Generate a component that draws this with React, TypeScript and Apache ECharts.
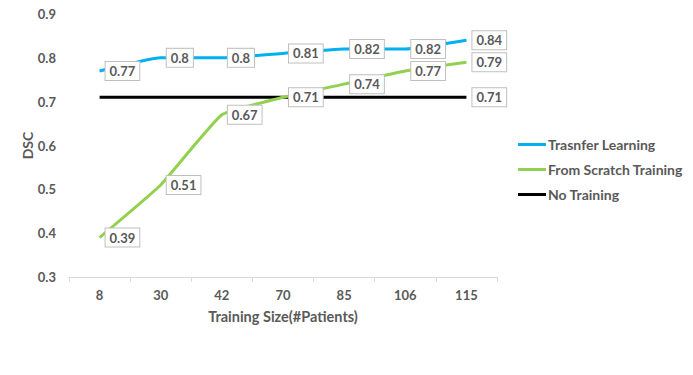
import React, { useEffect, useRef } from "react";
import * as echarts from "echarts";

const categories = ["8", "30", "42", "70", "85", "106", "115"];
const transferLearning = [0.77, 0.8, 0.8, 0.81, 0.82, 0.82, 0.84];
const fromScratch = [0.39, 0.51, 0.67, 0.71, 0.74, 0.77, 0.79];
const noTraining = [0.71, 0.71, 0.71, 0.71, 0.71, 0.71, 0.71];
const seriesNames = ["Trasnfer Learning", "From Scratch Training", "No Training"];
const colors = ["#00b0f0", "#92d050", "#000000"];

const FONT = "Lato, 'Open Sans', sans-serif";
const TEXT = "#595959";

const labelStyle = {
  show: true,
  position: "right" as const,
  distance: 6,
  color: TEXT,
  fontFamily: FONT,
  fontWeight: "bold" as const,
  fontSize: 13,
  backgroundColor: "#ffffff",
  borderColor: "#bfbfbf",
  borderWidth: 1,
  padding: [3, 4, 2, 4],
  formatter: (p: any) => String(p.value),
};

export default function App() {
  const ref = useRef<HTMLDivElement>(null);
  useEffect(() => {
    if (!ref.current) return;
    const chart = echarts.init(ref.current, null, { renderer: "svg" });
    chart.setOption({
      animation: false,
      backgroundColor: "#ffffff",
      grid: { left: 69, right: 196, top: 14, bottom: 98, containLabel: false },
      legend: {
        orient: "vertical",
        left: 513,
        top: 132,
        itemWidth: 28,
        itemHeight: 3,
        itemGap: 10,
        icon: "rect",
        textStyle: {
          color: TEXT,
          fontFamily: FONT,
          fontWeight: "bold",
          fontSize: 14,
          lineHeight: 15,
          padding: [0, 0, 0, -3],
        },
        data: seriesNames,
      },
      xAxis: {
        type: "category",
        data: categories,
        boundaryGap: true,
        name: "Training Size(#Patients)",
        nameLocation: "middle",
        nameGap: 32,
        nameTextStyle: { color: TEXT, fontFamily: FONT, fontWeight: "bold", fontSize: 14.5 },
        axisLine: { lineStyle: { color: "#d9d9d9", width: 1 } },
        axisTick: { show: true, length: 5, lineStyle: { color: "#d9d9d9" } },
        axisLabel: { color: TEXT, fontFamily: FONT, fontWeight: "bold", fontSize: 13, margin: 11 },
        splitLine: { show: false },
      },
      yAxis: {
        type: "value",
        min: 0.3,
        max: 0.9,
        interval: 0.1,
        name: "DSC",
        nameLocation: "middle",
        nameGap: 35,
        nameMoveOverlap: false,
        nameRotate: 90,
        nameTextStyle: { color: TEXT, fontFamily: FONT, fontWeight: "bold", fontSize: 14 },
        axisLine: { show: false },
        axisTick: { show: false },
        splitLine: { show: false },
        axisLabel: {
          color: TEXT,
          fontFamily: FONT,
          fontWeight: "bold",
          fontSize: 13,
          margin: 13,
          formatter: (v: number) => String(Math.round(v * 10) / 10),
        },
      },
      series: [
        {
          name: seriesNames[0],
          type: "line",
          data: transferLearning,
          smooth: 0.12,
          symbol: "circle",
          symbolSize: 0,
          lineStyle: { color: colors[0], width: 3 },
          itemStyle: { color: colors[0] },
          label: labelStyle,
          z: 3,
        },
        {
          name: seriesNames[1],
          type: "line",
          data: fromScratch,
          smooth: 0.12,
          symbol: "circle",
          symbolSize: 0,
          lineStyle: { color: colors[1], width: 3 },
          itemStyle: { color: colors[1] },
          label: labelStyle,
          z: 3,
        },
        {
          name: seriesNames[2],
          type: "line",
          data: noTraining.map((v, i) => ({
            value: v,
            label: { show: i === noTraining.length - 1 },
          })),
          symbol: "circle",
          symbolSize: 0,
          lineStyle: { color: colors[2], width: 3 },
          itemStyle: { color: colors[2] },
          label: labelStyle,
          z: 2,
        },
      ],
    });
    return () => chart.dispose();
  }, []);
  return <div ref={ref} style={{ width: 693, height: 375, position: "absolute", left: 0, top: 0 }} />;
}
